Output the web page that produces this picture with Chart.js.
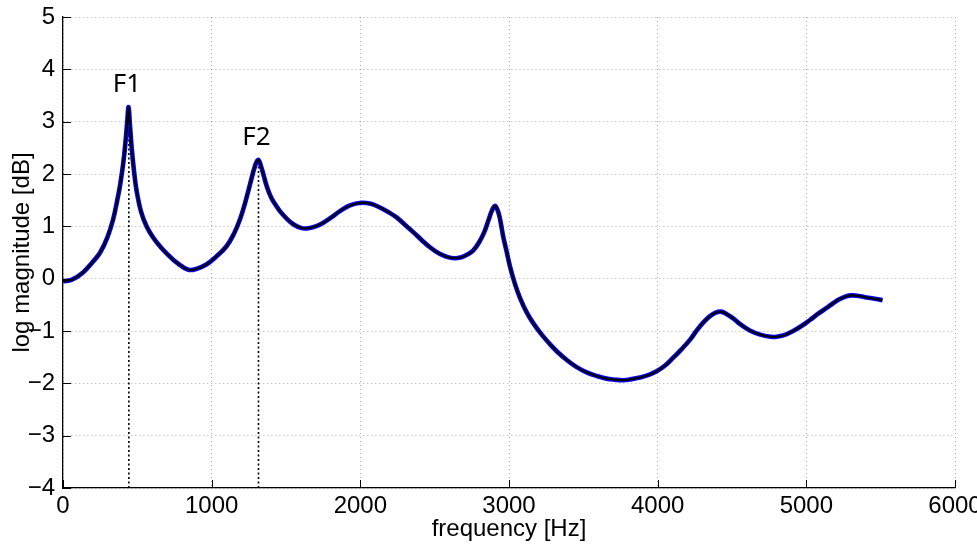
<!DOCTYPE html>
<html>
<head>
<meta charset="utf-8">
<script src="https://cdn.jsdelivr.net/npm/chart.js@4/dist/chart.umd.min.js"></script>
<style>
  html, body { margin: 0; padding: 0; background: #fff; }
  #wrap { width: 977px; height: 544px; position: relative; }
</style>
</head>
<body>
<div id="wrap"><canvas id="specChart"></canvas></div>
<script>
// spectrum envelope
var freqHz = [0, 60, 135, 200, 250, 300, 337, 365, 383, 405, 420, 432, 441, 450, 462, 478, 495, 525, 562, 605,
  652, 705, 763, 843, 900, 964, 1030, 1100, 1150, 1190, 1225, 1258, 1290, 1313, 1335, 1370, 1400, 1437, 1459, 1500,
  1549, 1600, 1639, 1700, 1751, 1800, 1863, 1930, 2005, 2070, 2132, 2190, 2244, 2300, 2356, 2412, 2468, 2530, 2580, 2630,
  2680, 2720, 2760, 2800, 2835, 2860, 2885, 2905, 2922, 2939, 2960, 2984, 3006, 3040, 3073, 3120, 3163, 3220, 3275, 3330,
  3387, 3450, 3522, 3590, 3656, 3712, 3768, 3825, 3880, 3940, 3993, 4050, 4105, 4160, 4217, 4260, 4306, 4350, 4390, 4425,
  4460, 4508, 4560, 4620, 4690, 4760, 4800, 4850, 4911, 4970, 5024, 5080, 5136, 5180, 5225, 5265, 5304, 5350, 5405, 5450, 5512];
var logMag = [-0.05, -0.02, 0.12, 0.32, 0.5, 0.8, 1.13, 1.5, 1.77, 2.2, 2.6, 3.0, 3.28, 2.95, 2.5, 2.05, 1.68, 1.28, 1.0, 0.79,
  0.62, 0.46, 0.31, 0.17, 0.19, 0.27, 0.42, 0.62, 0.86, 1.13, 1.45, 1.8, 2.14, 2.27, 2.12, 1.77, 1.55, 1.38, 1.29, 1.16,
  1.04, 0.97, 0.96, 1.0, 1.07, 1.16, 1.29, 1.4, 1.45, 1.43, 1.36, 1.27, 1.17, 1.03, 0.89, 0.74, 0.6, 0.48, 0.42, 0.39,
  0.41, 0.46, 0.54, 0.7, 0.9, 1.1, 1.3, 1.39, 1.32, 1.15, 0.82, 0.52, 0.24, -0.1, -0.36, -0.65, -0.85, -1.07, -1.25, -1.41,
  -1.55, -1.68, -1.79, -1.86, -1.91, -1.93, -1.94, -1.92, -1.89, -1.84, -1.77, -1.66, -1.51, -1.35, -1.17, -1.0, -0.84, -0.72, -0.65, -0.63,
  -0.67, -0.76, -0.88, -0.99, -1.07, -1.11, -1.11, -1.08, -1.0, -0.9, -0.79, -0.67, -0.56, -0.47, -0.39, -0.34, -0.32, -0.33, -0.36, -0.38, -0.41];

var formantLabels = ['F1', 'F2'];
var formantFreq = [443, 1315];
var formantMag = [3.28, 2.27];

var xTicks = [0, 1000, 2000, 3000, 4000, 5000, 6000];
var yTicks = [-4, -3, -2, -1, 0, 1, 2, 3, 4, 5];

var tickFont = { family: '"Liberation Sans", Arial, sans-serif', size: 24 };

function curvePoints() {
  return freqHz.map(function(f, i) { return { x: f, y: logMag[i] }; });
}

function formantLine(i) {
  return {
    data: [{ x: formantFreq[i], y: yTicks[0] }, { x: formantFreq[i], y: formantMag[i] }],
    borderColor: '#000',
    borderWidth: 1.6,
    borderDash: [2, 2.5],
    pointRadius: 0,
    tension: 0,
    order: 2
  };
}

var overlay = {
  id: 'overlay',
  afterDraw: function(chart) {
    var ctx = chart.ctx;
    var xs = chart.scales.x, ys = chart.scales.y, area = chart.chartArea;
    ctx.save();
    ctx.strokeStyle = '#000';
    ctx.lineWidth = 1;
    ctx.beginPath();
    xs.ticks.forEach(function(t) {
      var px = Math.round(xs.getPixelForValue(t.value)) + 0.5;
      ctx.moveTo(px, area.bottom);
      ctx.lineTo(px, area.bottom - 8);
    });
    ys.ticks.forEach(function(t) {
      var py = Math.round(ys.getPixelForValue(t.value)) + 0.5;
      ctx.moveTo(area.left, py);
      ctx.lineTo(area.left + 8, py);
    });
    ctx.stroke();

    ctx.fillStyle = '#000';
    ctx.font = '26px "Noto Sans", sans-serif';
    ctx.textAlign = 'center';
    ctx.textBaseline = 'middle';
    formantLabels.forEach(function(lbl, i) {
      ctx.fillText(lbl, xs.getPixelForValue(formantFreq[i]) - 2, ys.getPixelForValue(formantMag[i]) - 22);
    });
    ctx.restore();
  }
};

function buildChart() {
  var ctx = document.getElementById('specChart');
  var datasets = [
    {
      data: curvePoints(),
      borderColor: '#000',
      borderWidth: 2.2,
      pointRadius: 0,
      tension: 0.4,
      order: 0
    },
    {
      data: curvePoints(),
      borderColor: '#0000ff',
      borderWidth: 4.6,
      pointRadius: 0,
      tension: 0.4,
      order: 1
    },
    formantLine(0),
    formantLine(1)
  ];

  new Chart(ctx, {
    type: 'line',
    data: { datasets: datasets },
    options: {
      responsive: true,
      maintainAspectRatio: false,
      animation: false,
      layout: { padding: { top: 17, right: 22, left: 0, bottom: 0 } },
      plugins: { legend: { display: false }, tooltip: { enabled: false } },
      scales: {
        x: {
          type: 'linear',
          min: 0,
          max: 6000,
          afterBuildTicks: function(scale) {
            scale.ticks = xTicks.map(function(v) { return { value: v }; });
          },
          afterFit: function(scale) {
            scale.height = 56;
            scale.paddingLeft = 0;
            scale.paddingRight = 0;
          },
          ticks: {
            color: '#000',
            font: tickFont,
            padding: 4,
            maxRotation: 0,
            autoSkip: false,
            callback: function(v) { return String(v); }
          },
          grid: { color: 'rgba(0,0,0,0.32)', lineWidth: 1, drawTicks: false },
          border: { display: true, color: '#000', width: 1.3, dash: [1, 3] },
          title: { display: true, text: 'frequency [Hz]', color: '#000', font: tickFont, padding: { top: 0, bottom: 0 } }
        },
        y: {
          type: 'linear',
          min: -4,
          max: 5,
          afterBuildTicks: function(scale) {
            scale.ticks = yTicks.map(function(v) { return { value: v }; });
          },
          afterFit: function(scale) {
            scale.width = 63;
            scale.paddingTop = 0;
            scale.paddingBottom = 0;
          },
          ticks: {
            color: '#000',
            font: tickFont,
            padding: 8,
            autoSkip: false,
            callback: function(v) { return String(v).replace('-', '\u2212'); }
          },
          grid: { color: 'rgba(0,0,0,0.32)', lineWidth: 1, drawTicks: false },
          border: { display: true, color: '#000', width: 1.3, dash: [1, 3] },
          title: { display: true, text: 'log magnitude [dB]', color: '#000', font: tickFont, padding: { top: 8, bottom: 0 } }
        }
      }
    },
    plugins: [overlay]
  });
}

buildChart();
</script>
</body>
</html>
